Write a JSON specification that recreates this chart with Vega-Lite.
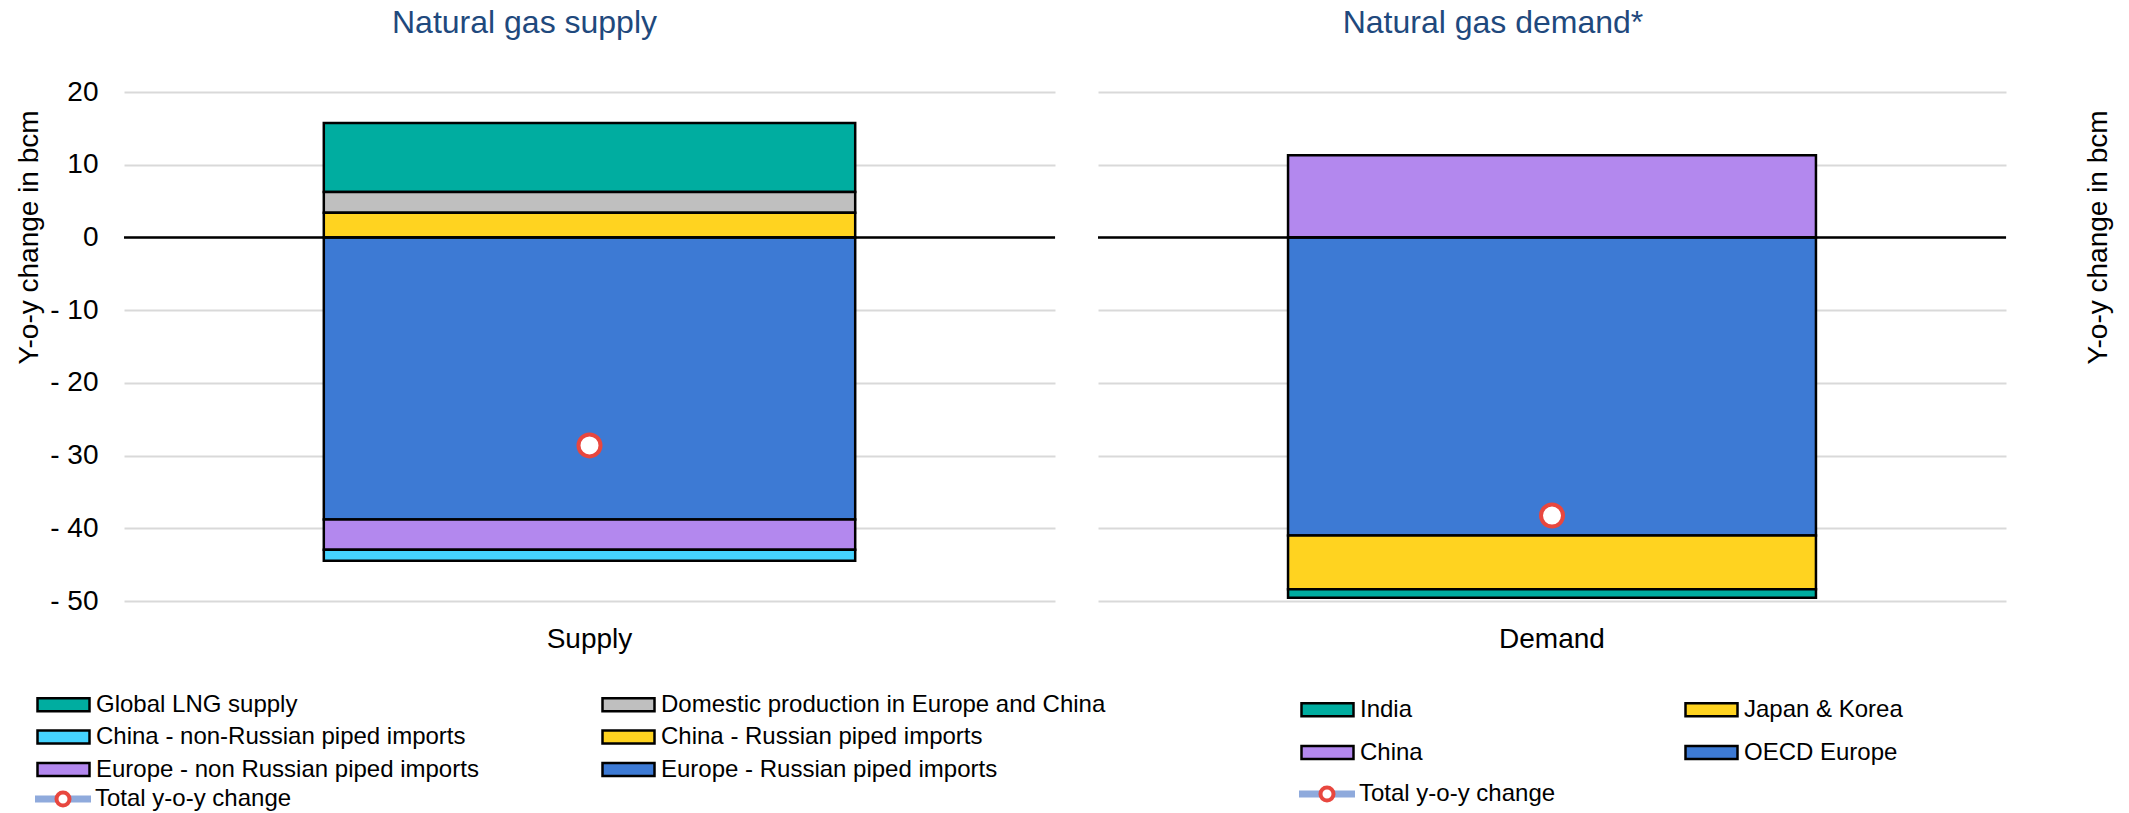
{
  "$schema": "https://vega.github.io/schema/vega-lite/v6.json",
  "background": "white",
  "padding": {"left": 15, "top": 7, "right": 5, "bottom": 0},
  "autosize": {"type": "pad"},
  "config": {"font": "Liberation Sans", "view": {"stroke": null}},
  "datasets": {
    "supply": [
      {"panel": "Supply", "category": "Global LNG supply", "value": 9.5},
      {"panel": "Supply", "category": "Domestic production in Europe and China", "value": 2.85},
      {"panel": "Supply", "category": "China - Russian piped imports", "value": 3.4},
      {"panel": "Supply", "category": "Europe - Russian piped imports", "value": -38.8},
      {"panel": "Supply", "category": "Europe - non Russian piped imports", "value": -4.15},
      {"panel": "Supply", "category": "China - non-Russian piped imports", "value": -1.5}
    ],
    "demand": [
      {"panel": "Demand", "category": "China", "value": 11.3},
      {"panel": "Demand", "category": "OECD Europe", "value": -41.0},
      {"panel": "Demand", "category": "Japan & Korea", "value": -7.4},
      {"panel": "Demand", "category": "India", "value": -1.15}
    ],
    "totals": [
      {"panel": "Supply", "total": -28.6},
      {"panel": "Demand", "total": -38.25}
    ]
  },
  "spacing": 43,
  "bounds": "flush",
  "resolve": {
    "scale": {"x": "independent", "y": "independent", "color": "independent", "stroke": "independent", "strokeDash": "independent"},
    "legend": {"color": "independent", "stroke": "independent", "strokeDash": "independent"}
  },
  "hconcat": [
    {
      "width": 931,
      "height": 509,
      "title": {"text": "Natural gas supply", "fontSize": 32, "color": "#1F497D", "fontWeight": "normal", "anchor": "middle", "frame": "group", "dx": -65, "offset": 13, "baseline": "alphabetic"},
      "layer": [
        {
          "data": {"name": "supply"},
          "transform": [
            {"calculate": "indexof(['China - Russian piped imports','Domestic production in Europe and China','Global LNG supply','Europe - Russian piped imports','Europe - non Russian piped imports','China - non-Russian piped imports'], datum.category)", "as": "seq"}
          ],
          "mark": {"type": "bar", "stroke": "black", "strokeWidth": 2.5},
          "encoding": {
            "x": {"field": "panel", "type": "nominal", "scale": {"paddingInner": 0, "paddingOuter": 0.376},
              "axis": {"title": null, "labelAngle": 0, "labelFontSize": 28, "labelColor": "black", "ticks": false, "domain": false, "labelPadding": 24, "grid": false}},
            "y": {"field": "value", "type": "quantitative", "stack": "zero", "scale": {"domain": [-50, 20], "nice": false, "zero": false},
              "axis": {"values": [-50, -40, -30, -20, -10, 0, 10, 20], "labelExpr": "datum.value < 0 ? '- ' + abs(datum.value) : datum.label", "labelFontSize": 28, "labelColor": "black", "labelPadding": 26, "ticks": false, "domain": false, "grid": true, "gridColor": "#D9D9D9", "gridWidth": 2, "title": "Y-o-y change in bcm", "titleFontSize": 28, "titleFontWeight": "normal", "titleColor": "black", "titleX": -95, "titleY": 145, "titleAngle": -90, "titleAlign": "center", "titleBaseline": "middle"}},
            "color": {"field": "category", "type": "nominal",
              "scale": {"domain": ["Global LNG supply", "China - non-Russian piped imports", "Europe - non Russian piped imports", "Domestic production in Europe and China", "China - Russian piped imports", "Europe - Russian piped imports"],
                        "range": ["#00ADA0", "#45D3FF", "#B388EE", "#BFBFBF", "#FFD320", "#3D7AD4"]},
              "legend": {"orient": "none", "legendX": -75, "legendY": 598, "columns": 2, "title": null, "symbolType": "M-2,-0.5H2V0.5H-2Z", "symbolSize": 676, "symbolStrokeColor": "black", "symbolStrokeWidth": 2.5, "symbolOpacity": 1, "labelFontSize": 24, "labelColor": "black", "labelOffset": 18, "rowPadding": 5.5, "columnPadding": 118, "gridAlign": "each", "padding": 0, "labelLimit": 1000}},
            "order": {"field": "seq", "type": "quantitative"}
          }
        },
        {
          "data": {"name": "totals"},
          "transform": [{"filter": "datum.panel == 'Supply'"}],
          "mark": {"type": "rule", "color": "black", "strokeWidth": 2.5},
          "encoding": {"y": {"datum": 0}}
        },
        {
          "data": {"name": "totals"},
          "transform": [{"filter": "datum.panel == 'Supply'"}],
          "mark": {"type": "line", "color": "#8FAADC", "strokeWidth": 7},
          "encoding": {
            "x": {"field": "panel", "type": "nominal"},
            "y": {"field": "total", "type": "quantitative"},
            "strokeDash": {"datum": "Total y-o-y change", "scale": {"range": [[1, 0]]},
              "legend": {"orient": "none", "legendX": -73, "legendY": 695, "title": null, "symbolType": "M-4,0H4", "symbolSize": 196, "symbolStrokeColor": "#8FAADC", "symbolStrokeWidth": 7, "symbolFillColor": "transparent", "labelFontSize": 24, "labelColor": "black", "labelOffset": 20, "padding": 0, "labelLimit": 1000, "zindex": 0}}
          }
        },
        {
          "data": {"name": "totals"},
          "transform": [{"filter": "datum.panel == 'Supply'"}],
          "mark": {"type": "point", "shape": "circle", "filled": false, "fill": "white", "fillOpacity": 1, "strokeWidth": 4, "size": 484, "opacity": 1},
          "encoding": {
            "x": {"field": "panel", "type": "nominal"},
            "y": {"field": "total", "type": "quantitative"},
            "stroke": {"datum": "total", "scale": {"range": ["#E8473F"]},
              "legend": {"orient": "none", "legendX": -73, "legendY": 695, "title": null, "symbolType": "circle", "symbolSize": 169, "symbolStrokeWidth": 4, "symbolFillColor": "white", "labelFontSize": 24, "labelExpr": "''", "padding": 0, "zindex": 1}}
          }
        }
      ]
    },
    {
      "width": 908,
      "height": 509,
      "title": {"text": "Natural gas demand*", "fontSize": 32, "color": "#1F497D", "fontWeight": "normal", "anchor": "middle", "frame": "group", "dx": -59, "offset": 27, "baseline": "alphabetic"},
      "layer": [
        {
          "data": {"name": "demand"},
          "transform": [
            {"calculate": "indexof(['China','OECD Europe','Japan & Korea','India'], datum.category)", "as": "seq"}
          ],
          "mark": {"type": "bar", "stroke": "black", "strokeWidth": 2.5},
          "encoding": {
            "x": {"field": "panel", "type": "nominal", "scale": {"paddingInner": 0, "paddingOuter": 0.36},
              "axis": {"title": null, "labelAngle": 0, "labelFontSize": 28, "labelColor": "black", "ticks": false, "domain": false, "labelPadding": 24, "grid": false}},
            "y": {"field": "value", "type": "quantitative", "stack": "zero", "scale": {"domain": [-50, 20], "nice": false, "zero": false},
              "axis": {"orient": "right", "values": [-50, -40, -30, -20, -10, 0, 10, 20], "labels": false, "ticks": false, "domain": false, "grid": true, "gridColor": "#D9D9D9", "gridWidth": 2, "title": "Y-o-y change in bcm", "titleFontSize": 28, "titleFontWeight": "normal", "titleColor": "black", "titleX": 92, "titleY": 145, "titleAngle": -90, "titleAlign": "center", "titleBaseline": "middle"}},
            "color": {"field": "category", "type": "nominal",
              "scale": {"domain": ["India", "China", "Japan & Korea", "OECD Europe"],
                        "range": ["#00ADA0", "#B388EE", "#FFD320", "#3D7AD4"]},
              "legend": {"orient": "none", "legendX": 215, "legendY": 603, "columns": 2, "title": null, "symbolType": "M-2,-0.5H2V0.5H-2Z", "symbolSize": 676, "symbolStrokeColor": "black", "symbolStrokeWidth": 2.5, "symbolOpacity": 1, "labelFontSize": 24, "labelColor": "black", "labelOffset": 18, "rowPadding": 16, "columnPadding": 257, "gridAlign": "each", "padding": 0, "labelLimit": 1000}},
            "order": {"field": "seq", "type": "quantitative"}
          }
        },
        {
          "data": {"name": "totals"},
          "transform": [{"filter": "datum.panel == 'Demand'"}],
          "mark": {"type": "rule", "color": "black", "strokeWidth": 2.5},
          "encoding": {"y": {"datum": 0}}
        },
        {
          "data": {"name": "totals"},
          "transform": [{"filter": "datum.panel == 'Demand'"}],
          "mark": {"type": "line", "color": "#8FAADC", "strokeWidth": 7},
          "encoding": {
            "x": {"field": "panel", "type": "nominal"},
            "y": {"field": "total", "type": "quantitative"},
            "strokeDash": {"datum": "Total y-o-y change", "scale": {"range": [[1, 0]]},
              "legend": {"orient": "none", "legendX": 217, "legendY": 690, "title": null, "symbolType": "M-4,0H4", "symbolSize": 196, "symbolStrokeColor": "#8FAADC", "symbolStrokeWidth": 7, "symbolFillColor": "transparent", "labelFontSize": 24, "labelColor": "black", "labelOffset": 20, "padding": 0, "labelLimit": 1000, "zindex": 0}}
          }
        },
        {
          "data": {"name": "totals"},
          "transform": [{"filter": "datum.panel == 'Demand'"}],
          "mark": {"type": "point", "shape": "circle", "filled": false, "fill": "white", "fillOpacity": 1, "strokeWidth": 4, "size": 484, "opacity": 1},
          "encoding": {
            "x": {"field": "panel", "type": "nominal"},
            "y": {"field": "total", "type": "quantitative"},
            "stroke": {"datum": "total", "scale": {"range": ["#E8473F"]},
              "legend": {"orient": "none", "legendX": 217, "legendY": 690, "title": null, "symbolType": "circle", "symbolSize": 169, "symbolStrokeWidth": 4, "symbolFillColor": "white", "labelFontSize": 24, "labelExpr": "''", "padding": 0, "zindex": 1}}
          }
        }
      ]
    }
  ]
}
